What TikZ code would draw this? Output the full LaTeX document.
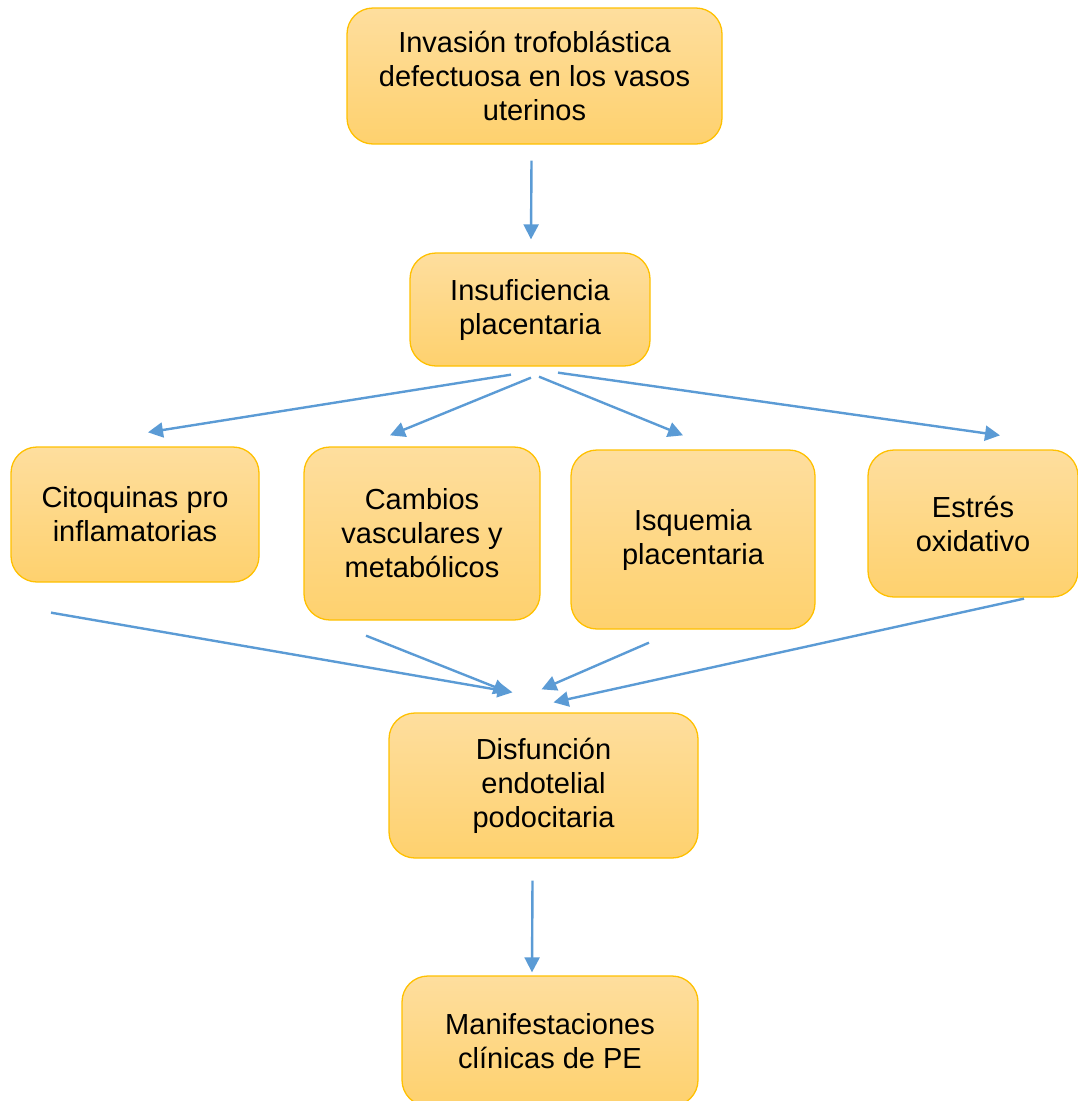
\documentclass[tikz,border=0pt]{standalone}
\usepackage{fontspec}
\setmainfont{Liberation Sans}
\usetikzlibrary{calc,arrows.meta}
\definecolor{boxtop}{RGB}{254,222,158}
\definecolor{boxbot}{RGB}{254,209,110}
\definecolor{boxline}{RGB}{255,192,0}
\definecolor{arrowblue}{RGB}{91,155,213}
\tikzset{
  flowbox/.style={draw=boxline, line width=1.3pt, rounded corners=26pt,
    top color=boxtop, bottom color=boxbot, align=center, inner sep=0pt,
    font=\fontsize{29}{34}\selectfont, text=black},
  flowarrow/.style={draw=arrowblue, line width=2.4pt,
    -{Triangle[length=15pt,width=15pt]}}
}
\begin{document}
\begin{tikzpicture}[x=1pt,y=-1pt]
\useasboundingbox (0,0) rectangle (1078,1101);
\node[flowbox, minimum width=375pt, minimum height=136pt] (top) at (534.5,76) {Invasión trofoblástica\\defectuosa en los vasos\\uterinos};
\node[flowbox, minimum width=240pt, minimum height=113pt] (ins) at (530,309.5) {Insuficiencia\\placentaria};
\node[flowbox, minimum width=248pt, minimum height=135pt] (cit) at (135,514.5) {Citoquinas pro\\inflamatorias};
\node[flowbox, minimum width=236pt, minimum height=173pt] (cam) at (422,533.5) {Cambios\\vasculares y\\metabólicos};
\node[flowbox, minimum width=244pt, minimum height=179pt] (isq) at (693,539.5) {Isquemia\\placentaria};
\node[flowbox, minimum width=210pt, minimum height=147pt] (est) at (973,523.5) {Estrés\\oxidativo};
\node[flowbox, minimum width=309pt, minimum height=145pt] (dis) at (543.5,785.5) {Disfunción\\endotelial\\podocitaria};
\node[flowbox, minimum width=296pt, minimum height=130pt] (man) at (550,1041) {Manifestaciones\\clínicas de PE};

\draw[flowarrow] ($(top.south)+(-3,16)$) -- ($(ins.north)+(1,-13)$);
\draw[flowarrow] ($(ins.south)+(-19,8)$) -- ($(cit.north)+(13,-14)$);
\draw[flowarrow] ($(ins.south)+(1,11)$) -- ($(cam.north)+(-32,-11)$);
\draw[flowarrow] ($(ins.south)+(9,10)$) -- ($(isq.north)+(-10,-14)$);
\draw[flowarrow] ($(ins.south)+(28,6)$) -- ($(est.north)+(27,-14)$);
\draw[flowarrow] ($(cit.south)+(-84,30)$) -- ($(dis.north)+(-31,-20)$);
\draw[flowarrow] ($(cam.south)+(-56,15)$) -- ($(dis.north)+(-35,-20)$);
\draw[flowarrow] ($(isq.south)+(-44,13)$) -- ($(dis.north)+(-2,-23)$);
\draw[flowarrow] ($(est.south)+(51,1)$) -- ($(dis.north)+(10,-10)$);
\draw[flowarrow] ($(dis.south)+(-11,22)$) -- ($(man.north)+(-18,-3)$);
\end{tikzpicture}
\end{document}
